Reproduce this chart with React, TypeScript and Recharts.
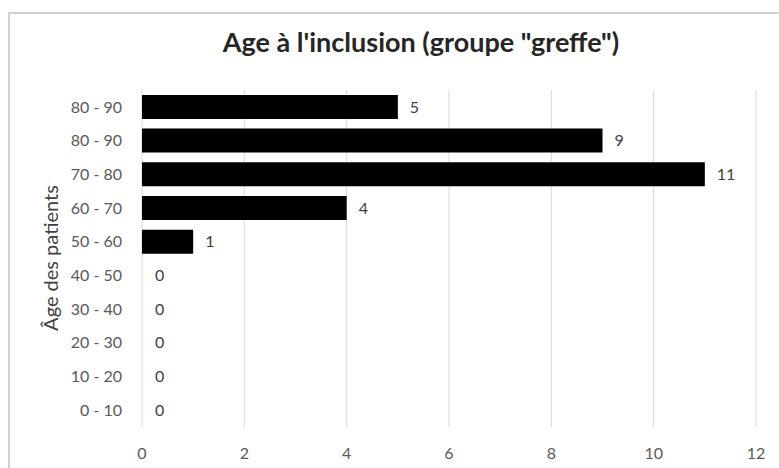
import React from "react";
import { BarChart, Bar, XAxis, YAxis, CartesianGrid, LabelList, Label, Cell } from "recharts";

// bottom to top, as in the source sheet
const ageGroups = ["0 - 10", "10 - 20", "20 - 30", "30 - 40", "40 - 50", "50 - 60", "60 - 70", "70 - 80", "80 - 90", "80 - 90"];
const patientCounts = [0, 0, 0, 0, 0, 1, 4, 11, 9, 5];
const xTicks = [0, 2, 4, 6, 8, 10, 12];

const data = ageGroups.map((g, i) => ({ idx: i, group: g, count: patientCounts[i] }));

const FONT = "Lato, 'Open Sans', sans-serif";

export default function App() {
    return (
        <div style={{
            position: "absolute",
            left: 0,
            top: 0,
            width: 779,
            height: 468,
            overflow: "hidden",
            background: "#fff",
            fontFamily: FONT,
        }}>
            <div style={{
                position: "absolute",
                left: 8,
                top: 12,
                width: 800,
                height: 500,
                border: "2px solid #d0d0d0",
                boxSizing: "border-box",
            }} />
            <div style={{
                position: "absolute",
                left: 0,
                top: 26,
                width: 842,
                textAlign: "center",
                fontSize: 27,
                fontWeight: 700,
                color: "#262626",
                lineHeight: "32px",
            }}>
                Age à l'inclusion (groupe "greffe")
            </div>
            <div style={{ position: "absolute", left: 0, top: 0 }}>
                <BarChart
                    width={779}
                    height={468}
                    data={data}
                    layout="vertical"
                    margin={{ top: 90, right: 23, bottom: 11, left: 62 }}
                    barCategoryGap="14.5%"
                >
                    <CartesianGrid horizontal={false} stroke="#d9d9d9" strokeWidth={1} />
                    <XAxis
                        type="number"
                        domain={[0, 12]}
                        ticks={xTicks}
                        axisLine={false}
                        tickLine={false}
                        tick={{ fill: "#595959", fontSize: 16, fontFamily: FONT }}
                        tickMargin={15}
                        height={30}
                    />
                    <YAxis
                        type="category"
                        dataKey="idx"
                        reversed
                        width={80}
                        axisLine={false}
                        tickLine={false}
                        tickFormatter={(v: number) => ageGroups[v]}
                        tick={{ fill: "#595959", fontSize: 16, fontFamily: FONT }}
                        tickMargin={14}
                    >
                        <Label
                            content={() => (
                                <text
                                    x={50}
                                    y={258}
                                    transform="rotate(-90 50 258)"
                                    textAnchor="middle"
                                    dominantBaseline="central"
                                    fill="#404040"
                                    fontSize={20}
                                    fontFamily={FONT}
                                >
                                    Âge des patients
                                </text>
                            )}
                        />
                    </YAxis>
                    <Bar dataKey="count" fill="#000" minPointSize={1} isAnimationActive={false}>
                        {data.map((d, i) => (
                            <Cell key={i} fill={d.count === 0 ? "transparent" : "#000"} />
                        ))}
                        <LabelList
                            dataKey="count"
                            position="right"
                            offset={12}
                            fill="#404040"
                            fontSize={16}
                            fontFamily={FONT}
                        />
                    </Bar>
                </BarChart>
            </div>
        </div>
    );
}
